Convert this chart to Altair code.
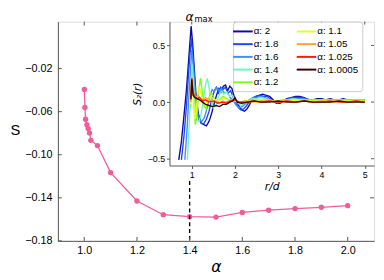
import altair as alt
import pandas as pd

FONT = "Liberation Sans"
MATH = "DejaVu Sans"
AX = "#555555"

# ---- main panel data ----
alpha_vals = [1.0005, 1.0025, 1.005, 1.01, 1.015, 1.02, 1.025, 1.05, 1.1, 1.2, 1.3, 1.4, 1.5, 1.6, 1.7, 1.8, 1.9, 2.0]
s_vals = [-0.0394, -0.0561, -0.0670, -0.0721, -0.0757, -0.0797, -0.0866, -0.0915, -0.1166, -0.1430,
          -0.1557, -0.1575, -0.1579, -0.1536, -0.1515, -0.1500, -0.1488, -0.1473]
x_ticks = [1.0, 1.2, 1.4, 1.6, 1.8, 2.0]
x_ticks_top = [1.0, 1.2]
y_ticks = [-0.18, -0.14, -0.10, -0.06, -0.02]
y_ticks_right = [-0.14]
amax = [1.4]
dash_s = [-0.1245, -0.18]

# ---- inset data ----
series_labels = ["2", "1.8", "1.6", "1.4", "1.2", "1.1", "1.05", "1.025", "1.0005"]
series_colors = ["#0b0b9c", "#1f45ff", "#3d8fff", "#70f7b8", "#7dff1a", "#e6ff1a", "#ffa033", "#ff1a0d", "#3d0000"]

r_2 = [0.70, 0.76, 0.82, 0.88, 0.93, 0.985, 1.02, 1.06, 1.10, 1.15, 1.21, 1.28, 1.34, 1.40, 1.46, 1.52, 1.58, 1.63,
       1.68, 1.73, 1.78, 1.83, 1.88, 1.93, 1.98, 2.04, 2.10, 2.16, 2.22, 2.28, 2.34, 2.40, 2.48, 2.56, 2.64, 2.72,
       2.80, 2.88, 2.96, 3.04, 3.12, 3.20, 3.30, 3.40, 3.50, 3.60, 3.70, 3.80, 3.90, 4.00, 4.10, 4.20, 4.30, 4.40,
       4.50, 4.60, 4.70, 4.80, 4.90, 5.00]
s_2 = [-0.51, -0.35, -0.12, 0.12, 0.38, 0.67, 0.52, 0.28, 0.05, -0.10, -0.18, -0.20, -0.21, -0.17, -0.10, -0.01,
       0.07, 0.12, 0.09, 0.14, 0.15, 0.10, 0.14, 0.12, 0.05, 0.00, -0.04, -0.07, -0.08, -0.06, -0.02, 0.03, 0.05,
       0.06, 0.07, 0.06, 0.05, 0.02, -0.01, -0.01, 0.01, 0.03, 0.04, 0.05, 0.05, 0.04, 0.02, 0.02, 0.03, 0.03,
       0.02, 0.03, 0.02, 0.02, 0.03, 0.02, 0.02, 0.02, 0.02, 0.02]

r_18 = [0.76, 0.82, 0.88, 0.93, 0.99, 1.03, 1.07, 1.11, 1.16, 1.22, 1.28, 1.34, 1.40, 1.46, 1.52, 1.57, 1.62, 1.67,
        1.72, 1.78, 1.84, 1.90, 1.96, 2.02, 2.08, 2.14, 2.20, 2.27, 2.34, 2.42, 2.50, 2.58, 2.66, 2.74, 2.82, 2.90,
        2.98, 3.06, 3.14, 3.24, 3.34, 3.44, 3.54, 3.64, 3.74, 3.84, 3.94, 4.04, 4.20, 4.35, 4.50, 4.65, 4.80, 5.00]
s_18 = [-0.51, -0.30, -0.02, 0.28, 0.57, 0.40, 0.15, -0.04, -0.14, -0.19, -0.19, -0.15, -0.08, 0.02, 0.10, 0.13,
        0.08, 0.13, 0.11, 0.13, 0.08, 0.10, 0.04, -0.01, -0.05, -0.07, -0.06, -0.03, 0.01, 0.04, 0.05, 0.06, 0.05,
        0.05, 0.03, 0.00, -0.01, 0.00, 0.02, 0.03, 0.04, 0.04, 0.04, 0.03, 0.02, 0.02, 0.02, 0.02, 0.02, 0.02, 0.02,
        0.02, 0.01, 0.02]

r_16 = [0.84, 0.89, 0.94, 1.00, 1.04, 1.08, 1.12, 1.17, 1.23, 1.29, 1.35, 1.41, 1.47, 1.52, 1.57, 1.63, 1.69, 1.75,
        1.82, 1.89, 1.96, 2.03, 2.10, 2.17, 2.25, 2.33, 2.42, 2.50, 2.60, 2.70, 2.80, 2.90, 3.00, 3.10, 3.20, 3.30,
        3.40, 3.50, 3.60, 3.70, 3.85, 4.00, 4.15, 4.30, 4.45, 4.60, 4.75, 4.90, 5.00]
s_16 = [-0.51, -0.25, 0.10, 0.46, 0.30, 0.08, -0.08, -0.16, -0.17, -0.14, -0.06, 0.04, 0.11, 0.09, 0.13, 0.10,
        0.12, 0.08, 0.09, 0.04, 0.01, -0.03, -0.05, -0.04, -0.01, 0.02, 0.04, 0.04, 0.05, 0.04, 0.02, 0.01, 0.00,
        0.01, 0.02, 0.03, 0.03, 0.03, 0.03, 0.02, 0.02, 0.02, 0.02, 0.02, 0.02, 0.02, 0.02, 0.02, 0.02]

r_14 = [0.90, 0.94, 0.98, 1.01, 1.04, 1.08, 1.12, 1.17, 1.22, 1.27, 1.32, 1.36, 1.40, 1.45, 1.50, 1.56, 1.62, 1.68,
        1.74, 1.80, 1.87, 1.94, 2.00, 2.07, 2.14, 2.22, 2.30, 2.40, 2.50, 2.60, 2.70, 2.80, 2.90, 3.00, 3.10, 3.20,
        3.35, 3.50, 3.65, 3.80, 4.00, 4.20, 4.40, 4.60, 4.80, 5.00]
s_14 = [-0.51, -0.20, 0.12, 0.33, 0.18, -0.06, -0.16, -0.17, -0.10, 0.03, 0.16, 0.21, 0.12, 0.02, -0.05, -0.03,
        0.05, 0.10, 0.07, 0.09, 0.05, 0.06, 0.02, -0.01, -0.03, -0.01, 0.01, 0.03, 0.03, 0.04, 0.03, 0.02, 0.01,
        0.01, 0.02, 0.02, 0.03, 0.02, 0.02, 0.02, 0.02, 0.02, 0.02, 0.02, 0.02, 0.02]

r_12 = [0.97, 1.00, 1.04, 1.08, 1.12, 1.16, 1.20, 1.24, 1.28, 1.33, 1.38, 1.43, 1.48, 1.54, 1.60, 1.66, 1.72, 1.80,
        1.88, 1.96, 2.05, 2.15, 2.25, 2.40, 2.55, 2.70, 2.85, 3.00, 3.20, 3.40, 3.60, 3.80, 4.00, 4.20, 4.40, 4.60,
        4.80, 5.00]
s_12 = [-0.05, 0.22, 0.05, -0.20, -0.12, 0.10, 0.21, 0.10, -0.03, -0.06, 0.02, 0.08, 0.06, 0.02, 0.00, 0.03, 0.05,
        0.03, 0.02, 0.01, 0.00, 0.00, 0.01, 0.02, 0.02, 0.02, 0.01, 0.01, 0.02, 0.02, 0.02, 0.01, 0.02, 0.01, 0.02,
        0.01, 0.02, 0.01]

r_11 = [0.97, 1.00, 1.03, 1.07, 1.10, 1.13, 1.17, 1.21, 1.26, 1.31, 1.37, 1.43, 1.50, 1.58, 1.66, 1.75, 1.85, 1.95,
        2.10, 2.25, 2.40, 2.60, 2.80, 3.00, 3.20, 3.40, 3.60, 3.80, 4.00, 4.20, 4.40, 4.60, 4.80, 5.00]
s_11 = [-0.02, 0.20, 0.08, -0.15, -0.10, 0.05, 0.14, 0.08, 0.00, -0.03, 0.02, 0.05, 0.03, 0.01, 0.02, 0.03, 0.02,
        0.01, 0.00, 0.01, 0.01, 0.02, 0.01, 0.01, 0.01, 0.02, 0.01, 0.01, 0.01, 0.01, 0.01, 0.01, 0.01, 0.01]

r_105 = [0.98, 1.00, 1.03, 1.06, 1.10, 1.15, 1.20, 1.26, 1.32, 1.40, 1.48, 1.56, 1.64, 1.72, 1.80, 1.90, 2.00, 2.10,
         2.25, 2.40, 2.60, 2.80, 3.00, 3.20, 3.40, 3.60, 3.80, 4.00, 4.20, 4.40, 4.60, 4.80, 5.00]
s_105 = [0.00, 0.22, 0.10, 0.06, 0.04, 0.06, 0.03, 0.02, 0.04, 0.02, 0.00, 0.01, -0.01, 0.01, 0.00, 0.02, 0.01,
         0.00, 0.01, 0.00, 0.01, 0.01, 0.00, 0.01, 0.00, 0.01, 0.00, 0.01, 0.00, 0.01, 0.00, 0.01, 0.00]

r_1025 = [0.98, 1.00, 1.03, 1.07, 1.12, 1.18, 1.25, 1.32, 1.40, 1.50, 1.60, 1.70, 1.80, 1.90, 2.00, 2.10, 2.25,
          2.40, 2.60, 2.80, 3.00, 3.20, 3.40, 3.60, 3.80, 4.00, 4.20, 4.40, 4.60, 4.80, 5.00]
s_1025 = [0.02, 0.21, 0.08, 0.05, 0.03, 0.04, 0.01, 0.02, 0.00, 0.01, -0.01, 0.00, -0.01, 0.01, 0.02, 0.00, 0.00,
          0.01, 0.00, 0.01, 0.00, 0.01, 0.00, 0.01, 0.00, 0.00, 0.01, 0.00, 0.00, 0.01, 0.00]

r_10005 = [0.98, 1.00, 1.03, 1.07, 1.12, 1.18, 1.25, 1.32, 1.40, 1.48, 1.56, 1.64, 1.72, 1.80, 1.88, 1.95, 2.00,
           2.05, 2.15, 2.30, 2.45, 2.60, 2.80, 3.00, 3.20, 3.40, 3.60, 3.80, 4.00, 4.20, 4.40, 4.60, 4.80, 5.00]
s_10005 = [0.03, 0.20, 0.06, 0.04, 0.03, 0.02, 0.00, -0.02, -0.03, -0.04, -0.03, -0.04, -0.02, -0.02, 0.00, 0.01,
           0.04, 0.00, -0.01, 0.00, 0.01, 0.00, 0.00, 0.01, 0.00, 0.00, 0.01, 0.00, 0.00, 0.00, 0.01, 0.00, 0.00, 0.00]

inset_r = [r_2, r_18, r_16, r_14, r_12, r_11, r_105, r_1025, r_10005]
inset_s = [s_2, s_18, s_16, s_14, s_12, s_11, s_105, s_1025, s_10005]
r_ticks = [1, 2, 3, 4, 5]
s2_ticks = [-0.5, 0.0, 0.5]

rows = []
for i, (rr, ss) in enumerate(zip(inset_r, inset_s)):
    for r, s in zip(rr, ss):
        rows.append({"r": r, "s": s, "name": "α: " + series_labels[i], "k": i})
inset_df = pd.DataFrame(rows)

leg_dom = ["α: " + lab for lab in series_labels]
leg_rng = series_colors

TOP = 11
W, H = 323, 243 - 8 - TOP
pink = "#f05c9a"

xs = alt.Scale(domain=[0.9, 2.1], nice=False, zero=False)
ys = alt.Scale(domain=[-0.18, 0.0236], nice=False, zero=False)

main_df = pd.DataFrame({"alpha": alpha_vals, "S": s_vals})

x_axis = alt.Axis(values=x_ticks, format=".1f", title="α", ticks=False, tickSize=0, labelPadding=4,
                  labelFontSize=11, titleFontSize=16, titleFontStyle="italic", titleFontWeight="normal",
                  titlePadding=3, grid=False, domainColor=AX, labelColor="black", titleColor="black",
                  labelFont=FONT, titleFont=MATH)
y_axis = alt.Axis(values=y_ticks, format=".2f", title="S", ticks=False, tickSize=0, labelPadding=6,
                  labelFontSize=11, titleFontSize=15, titleFontWeight="normal", titleAngle=0,
                  titleAlign="center", titleBaseline="middle", titleX=-44, titleY=H / 2 - 2, grid=False,
                  domainColor=AX, labelColor="black", titleColor="black", labelFont=FONT, titleFont=FONT)


def MX(f):
    return alt.X(f, type="quantitative", scale=xs, axis=x_axis)


def MY(f):
    return alt.Y(f, type="quantitative", scale=ys, axis=y_axis)


line = alt.Chart(main_df).mark_line(color=pink, strokeWidth=1.3).encode(x=MX("alpha"), y=MY("S"))
pts = alt.Chart(main_df).mark_point(filled=True, color=pink, size=30, opacity=1).encode(x=MX("alpha"), y=MY("S"))
dash = alt.Chart(pd.DataFrame({"a": amax, "y1": [dash_s[0]], "y2": [dash_s[1]]})).mark_rule(
    color="black", strokeWidth=1.4, strokeDash=[4, 3]).encode(x=MX("a"), y=MY("y1"), y2="y2:Q")
mt_bottom = alt.Chart(pd.DataFrame({"t": x_ticks})).mark_rule(color=AX).encode(
    x=MX("t"), y=alt.value(H), y2=alt.value(H - 4))
mt_top = alt.Chart(pd.DataFrame({"t": x_ticks_top})).mark_rule(color=AX).encode(
    x=MX("t"), y=alt.value(0), y2=alt.value(4))
mt_left = alt.Chart(pd.DataFrame({"t": y_ticks})).mark_rule(color=AX).encode(
    y=MY("t"), x=alt.value(0), x2=alt.value(4))
mt_right = alt.Chart(pd.DataFrame({"t": y_ticks_right})).mark_rule(color=AX).encode(
    y=MY("t"), x=alt.value(W), x2=alt.value(W - 4))
am_df = pd.DataFrame({"a": amax})
t_alpha = alt.Chart(am_df).mark_text(text="α", font=MATH, fontSize=12.5, fontStyle="italic", align="center",
                                     baseline="alphabetic", color="black").encode(x=MX("a"), y=alt.value(-1))
t_max = alt.Chart(am_df).mark_text(text="max", font=MATH, fontSize=8.5, align="left", dx=5,
                                   baseline="alphabetic", color="black").encode(x=MX("a"), y=alt.value(0))

main = alt.layer(line, pts, dash, mt_bottom, mt_top, mt_left, mt_right, t_alpha, t_max)

# ---- inset ----
IX = [114, 323]
IY = [166 - 8 - TOP, 0]
ixs = alt.Scale(domain=[0.485, 5.215], range=IX, nice=False, zero=False)
iys = alt.Scale(domain=[-0.56, 0.71], range=IY, nice=False, zero=False)

ix_axis = alt.Axis(orient="bottom", offset=-(H - IY[0]), values=r_ticks, format="d", title="r/d",
                   tickSize=3, tickColor=AX, labelPadding=2, labelFontSize=9, titleFontSize=11,
                   titleFontStyle="italic", titleFontWeight="normal", titlePadding=1, grid=False,
                   domainColor=AX, labelColor="black", titleColor="black", labelFont=FONT, titleFont=MATH)
iy_axis = alt.Axis(orient="left", offset=-IX[0], values=s2_ticks, format=".1f", title="S₂(r)",
                   tickSize=3, tickColor=AX, labelPadding=2, labelFontSize=9, titleFontSize=10.5,
                   titleFontStyle="italic", titleFontWeight="normal", titlePadding=5, grid=False,
                   domainColor=AX, labelColor="black", titleColor="black", labelFont=FONT, titleFont=MATH)


def IXe(f):
    return alt.X(f, type="quantitative", scale=ixs, axis=ix_axis)


def IYe(f):
    return alt.Y(f, type="quantitative", scale=iys, axis=iy_axis)


inset_lines = alt.Chart(inset_df).mark_line(strokeWidth=1.4).encode(
    x=IXe("r"),
    y=IYe("s"),
    color=alt.Color("name:N", scale=alt.Scale(domain=leg_dom, range=leg_rng),
                    legend=alt.Legend(orient="none", legendX=179, legendY=0, columns=2, title=None,
                                      symbolType="M-2,0H2", symbolSize=100, symbolStrokeWidth=2,
                                      labelFontSize=10, labelFont=FONT, labelColor="black", labelOffset=5,
                                      rowPadding=2, columnPadding=14, padding=4, strokeColor="#cccccc",
                                      fillColor="white", cornerRadius=3)),
    detail="k:N",
)
it_top = alt.Chart(pd.DataFrame({"t": r_ticks})).mark_rule(color=AX).encode(
    x=IXe("t"), y=alt.value(0), y2=alt.value(3))
it_right = alt.Chart(pd.DataFrame({"t": s2_ticks})).mark_rule(color=AX).encode(
    y=IYe("t"), x=alt.value(W), x2=alt.value(W - 3))

inset = alt.layer(inset_lines, it_top, it_right)

chart = alt.layer(main, inset).resolve_scale(
    x="independent", y="independent", color="independent"
).properties(
    width=W, height=H,
    padding={"left": 51, "top": TOP, "right": 2, "bottom": 36},
    autosize=alt.AutoSizeParams(type="none"),
).configure_view(stroke=AX, strokeWidth=1).configure(font=FONT)

chart.save("out.html", embed_options={"renderer": "svg", "actions": False})
